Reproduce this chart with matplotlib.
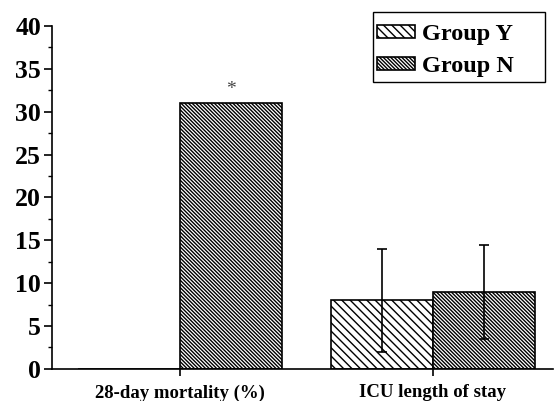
import numpy as np
import matplotlib
matplotlib.use("Agg")
import matplotlib.pyplot as plt
from matplotlib.patches import Rectangle

categories = ["28-day mortality (%)", "ICU length of stay"]
group_y = [0, 8]
group_y_err = [0, 6]
group_n = [31, 9]
group_n_err = [0, 5.5]

plt.rcParams["font.family"] = ["Liberation Serif", "DejaVu Serif"]
plt.rcParams["font.weight"] = "bold"
plt.rcParams["hatch.linewidth"] = 1.0

fig = plt.figure(figsize=(5.54, 4.01), dpi=100)
ax = fig.add_axes([0.094, 0.080, 0.904, 0.855])

x = np.arange(len(categories))
w = 0.403

ax.bar(x - w, group_y, w, align="edge", color="white", edgecolor="black",
       hatch="\\\\\\\\", lw=1.2, label="Group Y")
ax.bar(x, group_n, w, align="edge", color="white", edgecolor="black",
       hatch="\\\\\\\\\\\\\\\\\\", lw=1.2, label="Group N")

# error bars only on the ICU stay pair
ax.errorbar(x[1] - w / 2, group_y[1], yerr=group_y_err[1], fmt="none",
            ecolor="black", elinewidth=1.2, capsize=3.5, capthick=1.2)
ax.errorbar(x[1] + w / 2, group_n[1], yerr=group_n_err[1], fmt="none",
            ecolor="black", elinewidth=1.2, capsize=3.5, capthick=1.2)

ax.text(x[0] + w / 2, group_n[0] + 0.6, "*", ha="center", va="bottom",
        fontsize=14, color="#444444", fontweight="normal")

ax.set_xlim(-0.506, 1.474)
ax.set_ylim(0, 40)
ax.set_yticks(np.arange(0, 41, 5))
ax.set_yticks(np.arange(0, 40, 2.5), minor=True)
ax.set_xticks(x)
ax.set_xticklabels(categories, fontsize=13.5)
ax.tick_params(axis="y", labelsize=18.5, direction="out", length=6, width=1.2, pad=2)
ax.tick_params(axis="y", which="minor", direction="out", length=3, width=1)
ax.tick_params(axis="x", direction="out", length=5, width=1.2, pad=6)

ax.spines["top"].set_visible(False)
ax.spines["right"].set_visible(False)
ax.spines["left"].set_linewidth(1.2)
ax.spines["bottom"].set_linewidth(1.2)

# legend entries without frame, box drawn separately (wider on the right)
leg = ax.legend(loc="upper left", bbox_to_anchor=(0.6805, 0.940),
                bbox_transform=fig.transFigure, borderaxespad=0, borderpad=0,
                frameon=False, prop={"size": 17.5, "weight": "bold"},
                handlelength=1.56, handleheight=0.42, handletextpad=0.3,
                labelspacing=0.45)
fig.add_artist(Rectangle((373 / 554, 1 - 82 / 401), 172 / 554, 70 / 401,
                         transform=fig.transFigure, fill=False,
                         edgecolor="black", lw=1.0))

fig.savefig("out.png", dpi=100)
